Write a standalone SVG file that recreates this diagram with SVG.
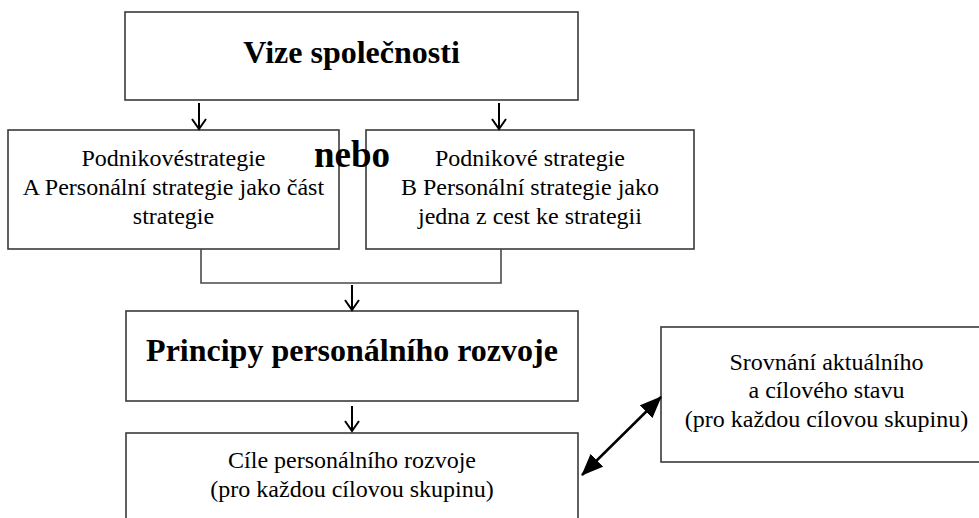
<svg xmlns="http://www.w3.org/2000/svg" width="979" height="518" viewBox="0 0 979 518">
  <style>
    .box { fill: #ffffff; stroke: #3a3a3a; stroke-width: 1.6; }
    text { font-family: 'Liberation Serif', 'DejaVu Serif', serif; fill: #000000; }
    .n { font-size: 24px; text-anchor: middle; }
    .b { font-size: 32px; font-weight: bold; text-anchor: middle; }
    .link { fill: none; stroke: #4a4a4a; stroke-width: 1.6; }
    .down { fill: none; stroke: #000000; stroke-width: 2; }
    .dbl { stroke: #000000; stroke-width: 2.5; }
  </style>
  <defs>
    <marker id="head" viewBox="0 0 22 18" refX="21" refY="9" markerWidth="22" markerHeight="18" markerUnits="userSpaceOnUse" orient="auto-start-reverse">
      <path d="M0,0 L22,9 L0,18 z" fill="#000000"/>
    </marker>
  </defs>
  <rect width="979" height="518" fill="#ffffff"/>

  <g font-family="Liberation Serif, DejaVu Serif, serif">
  <g id="vize">
    <rect class="box" x="125" y="12" width="453" height="88"/>
    <text class="b" x="351.5" y="63">Vize společnosti</text>
  </g>

  <g id="strategie-a">
    <rect class="box" x="8" y="130" width="331" height="119"/>
    <text class="n" x="173.5" y="166">Podnikovéstrategie</text>
    <text class="n" x="173.5" y="195">A Personální strategie jako část</text>
    <text class="n" x="173.5" y="224">strategie</text>
  </g>

  <g id="strategie-b">
    <rect class="box" x="366" y="130" width="328" height="119"/>
    <text class="n" x="530" y="166">Podnikové strategie</text>
    <text class="n" x="530" y="195">B Personální strategie jako</text>
    <text class="n" x="530" y="224">jedna z cest ke strategii</text>
  </g>

  <g id="nebo">
    <text x="314" y="167" font-size="37" font-weight="bold">nebo</text>
  </g>

  <g id="principy">
    <rect class="box" x="126" y="311" width="452" height="90"/>
    <text class="b" x="352" y="361">Principy personálního rozvoje</text>
  </g>

  <g id="cile">
    <rect class="box" x="126" y="433" width="452" height="100"/>
    <text class="n" x="352" y="468">Cíle personálního rozvoje</text>
    <text class="n" x="352" y="497">(pro každou cílovou skupinu)</text>
  </g>

  <g id="srovnani">
    <rect class="box" x="661" y="327" width="340" height="135"/>
    <text class="n" x="826.5" y="370">Srovnání aktuálního</text>
    <text class="n" x="826.5" y="398">a cílového stavu</text>
    <text class="n" x="826.5" y="427">(pro každou cílovou skupinu)</text>
  </g>
  </g>

  <g id="connectors">
    <!-- join from both strategy boxes -->
    <path class="link" d="M201,249 V283 H501 V249"/>
    <!-- downward arrows -->
    <path class="down" d="M199,103 V129 M192,119 L199,129 L206,119"/>
    <path class="down" d="M499,103 V129 M492,119 L499,129 L506,119"/>
    <path class="down" d="M352,285 V310 M345,300 L352,310 L359,300"/>
    <path class="down" d="M352,406 V431 M345,421 L352,431 L359,421"/>
    <!-- two-way link between goals and comparison -->
    <line class="dbl" x1="582" y1="475" x2="661" y2="397" marker-start="url(#head)" marker-end="url(#head)"/>
  </g>
</svg>
